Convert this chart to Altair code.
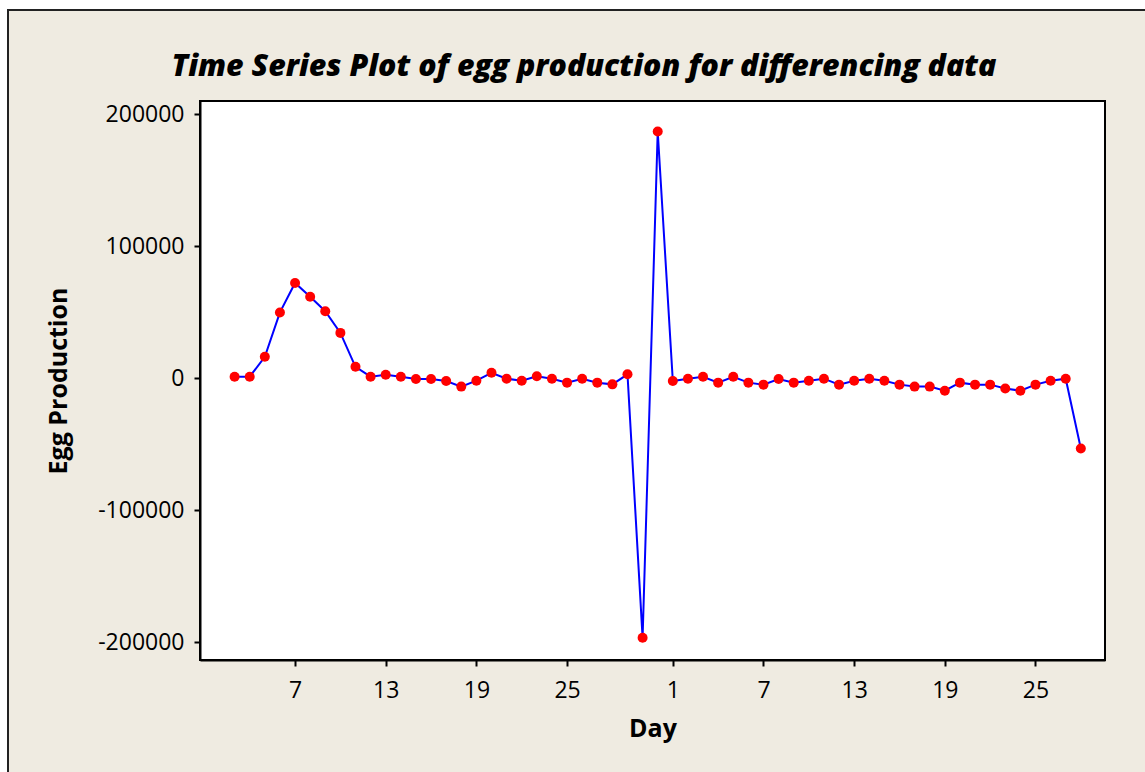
import altair as alt
import pandas as pd

# Differenced egg production, month 1 (days 3..31) and month 2 (days 1..28)
month1_days = list(range(3, 32))
month1_vals = [1000, 1000, 16100, 49700, 72000, 61500, 50600, 34200, 8500, 1000,
               2500, 1000, -750, -750, -2300, -6500, -2000, 4000, -500, -2000,
               1300, -500, -3500, -500, -3500, -4800, 2800, -196800, 186700]
month2_days = list(range(1, 29))
month2_vals = [-2300, -500, 1000, -3500, 1000, -3500, -5000, -750, -3500, -2000,
               -500, -5000, -2000, -500, -2000, -5000, -6500, -6500, -9600, -3500,
               -5000, -5000, -8000, -9600, -5000, -2000, -500, -53400]

x_tick_values = [7, 13, 19, 25, 32, 38, 44, 50, 56]
y_tick_values = [-200000, -100000, 0, 100000, 200000]
title_text = "Time Series Plot of egg production for differencing data"

rows = []
for d, v in zip(month1_days, month1_vals):
    rows.append({"t": d, "day": d, "value": v})
for d, v in zip(month2_days, month2_vals):
    rows.append({"t": 31 + d, "day": d, "value": v})
df = pd.DataFrame(rows)

W, H = 905, 559
PL, PT = 200, 101
FONT = "Open Sans"

xscale = alt.Scale(domain=[0.71, 60.6], nice=False, zero=False)
yscale = alt.Scale(domain=[-213600, 209850], nice=False, zero=False)

xaxis = alt.Axis(values=x_tick_values, title="Day", zindex=1,
                 labelExpr="datum.value > 31 ? datum.value - 31 : datum.value",
                 grid=False, tickSize=6, labelPadding=13, titlePadding=14)
yaxis = alt.Axis(values=y_tick_values, title="Egg Production", grid=False, zindex=1,
                 labelExpr="replace(format(datum.value, 'd'), '\u2212', '-')",
                 tickSize=6, labelPadding=10, titlePadding=26)

base = alt.Chart(df)
one = base.transform_filter("datum.t == 3")

frame = one.mark_rect(fill="#EFEBE1", stroke="#222222", strokeWidth=2).encode(
    x=alt.value(8 - PL), x2=alt.value(1145 - PL + 20),
    y=alt.value(10 - PT), y2=alt.value(772 - PT + 20),
)

plotbg = one.mark_rect(fill="white", stroke="#000000", strokeWidth=2).encode(
    x=alt.value(0), x2=alt.value(W), y=alt.value(0), y2=alt.value(H)
)

title = one.mark_text(
    text=title_text, font=FONT, fontSize=30.3, fontWeight=800, fontStyle="italic",
    color="#000000", align="center", baseline="alphabetic",
).encode(x=alt.value(584 - PL), y=alt.value(76 - PT))

line = base.mark_line(color="#0000FF", strokeWidth=2).encode(
    x=alt.X("t:Q", scale=xscale, axis=xaxis),
    y=alt.Y("value:Q", scale=yscale, axis=yaxis),
)
points = base.mark_circle(color="#FF0000", opacity=1, size=100).encode(
    x=alt.X("t:Q", scale=xscale),
    y=alt.Y("value:Q", scale=yscale),
)

chart = alt.layer(frame, plotbg, title, line, points).properties(
    width=W, height=H,
    padding={"left": PL, "top": PT, "right": 1145 - PL - W, "bottom": 772 - PT - H},
    autosize=alt.AutoSizeParams(type="none"),
    background="white",
).configure_view(stroke=None
).configure_axis(
    domainColor="#000000", domainWidth=2, tickColor="#000000", tickWidth=2,
    labelFont=FONT, labelFontSize=23, labelColor="#000000",
    titleFont=FONT, titleFontSize=25, titleFontWeight="bold", titleColor="#000000",
)

chart.save("out.html", embed_options={"renderer": "svg", "actions": False})
